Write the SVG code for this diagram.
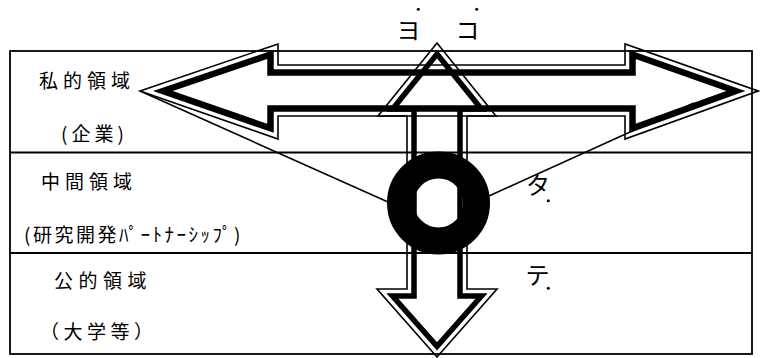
<svg xmlns="http://www.w3.org/2000/svg" width="760" height="358" viewBox="0 0 760 358">
<style>
.tbl{fill:none;stroke:#000;stroke-width:1.8}
.thin{fill:none;stroke:#000;stroke-width:1.6;stroke-miterlimit:10}
.thickh{fill:none;stroke:#000;stroke-width:6.5;stroke-miterlimit:10}
.thickv{fill:none;stroke:#000;stroke-width:5.5;stroke-miterlimit:10}
.lbl{font-family:"Noto Sans CJK JP","Noto Sans CJK SC",sans-serif;font-size:19px;fill:#000}
.kana{font-family:"Noto Sans CJK JP","Noto Sans CJK SC",sans-serif;font-size:24px;fill:#000;text-anchor:middle}
.conn{fill:none;stroke:#000;stroke-width:1.6}
</style>
<rect width="760" height="358" fill="#fff"/>
<g id="table">
  <rect class="tbl" x="10" y="51" width="742" height="303"/>
  <line class="tbl" x1="10" y1="152.5" x2="752" y2="152.5"/>
  <line class="tbl" x1="10" y1="253" x2="752" y2="253"/>
</g>
<g id="row-private">
  <text class="lbl" x="39" y="87.5" letter-spacing="5">私的領域</text>
  <text class="lbl" x="61" y="140.5" letter-spacing="4">(企業)</text>
</g>
<g id="row-middle">
  <text class="lbl" x="41" y="188.5" letter-spacing="5">中間領域</text>
  <text class="lbl" x="24" y="241.5" letter-spacing="2.5">(研究開発ﾊﾟｰﾄﾅｰｼｯﾌﾟ)</text>
</g>
<g id="row-public">
  <text class="lbl" x="54" y="287.5" letter-spacing="5.5">公的領域</text>
  <text class="lbl" x="40" y="338.5" letter-spacing="4.5">（大学等）</text>
</g>
<g id="connectors">
  <line class="conn" x1="140" y1="91" x2="388" y2="202"/>
  <line class="conn" x1="489" y1="196" x2="694" y2="103"/>
</g>
<g id="ring">
  <circle cx="438.5" cy="203" r="38" fill="none" stroke="#000" stroke-width="27"/>
</g>
<g id="arrow-horizontal">
  <polygon class="thin" points="140,91 278,44 278,65 625,65 625,44 758,91 625,139 625,116 278,116 278,139"/>
  <polygon class="thickh" points="163,91 270.5,54.5 270.5,72.5 632.5,72.5 632.5,54.5 735.7,91 632.5,128.3 632.5,108.5 270.5,108.5 270.5,128.3"/>
</g>
<g id="arrow-vertical">
  <polygon class="thin" points="437,43 496,116 467,116 467,289 497,289 437,357 377,289 407,289 407,116 378,116"/>
  <polygon class="thickv" points="437,54.1 481.4,109 460,109 460,296 481.5,296 437,346.4 392.5,296 414,296 414,109 392.6,109"/>
</g>
<g id="label-yoko">
  <text class="kana" x="408.5" y="39">ヨ</text>
  <text class="kana" x="467.5" y="39">コ</text>
  <circle cx="418.3" cy="9.3" r="1.5"/>
  <circle cx="476.7" cy="9.3" r="1.5"/>
</g>
<g id="label-tate">
  <text class="kana" x="538" y="194">タ</text>
  <text class="kana" x="537.5" y="284">テ</text>
  <circle cx="548.3" cy="200.7" r="1.5"/>
  <circle cx="548.3" cy="288.3" r="1.5"/>
</g>
</svg>
